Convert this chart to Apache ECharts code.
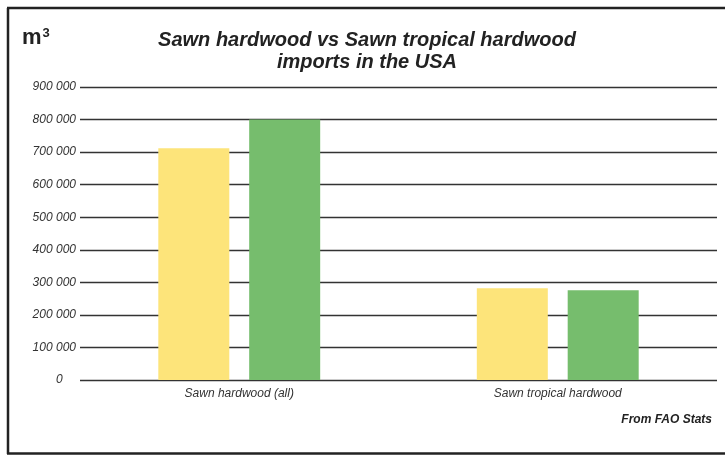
<!DOCTYPE html>
<html>
<head>
<meta charset="utf-8">
<script src="https://cdn.jsdelivr.net/npm/echarts@6/dist/echarts.min.js"></script>
<style>
  html, body { margin: 0; padding: 0; background: #fff; }
  #chart { width: 725px; height: 455px; }
</style>
</head>
<body>
<div id="chart"></div>
<script>
// Import volumes in cubic metres
const categories = ['Sawn hardwood (all)', 'Sawn tropical hardwood'];
const seriesNames = ['Period 1', 'Period 2'];
const period1 = [712000, 282000];
const period2 = [800000, 276000];
const yTicks = { min: 0, max: 900000, interval: 100000 };

const chart = echarts.init(document.getElementById('chart'), null, { renderer: 'canvas' });

const fontFamily = '"Liberation Sans", Arial, Helvetica, sans-serif';

function fmtThousands(v) {
  if (v === 0) return '0    ';
  return String(v).replace(/\B(?=(\d{3})+(?!\d))/g, ' ');
}

chart.setOption({
  animation: false,
  backgroundColor: '#ffffff',
  title: {
    text: 'Sawn hardwood vs Sawn tropical hardwood\nimports in the USA',
    left: 362,
    top: 24,
    textAlign: 'center',
    textStyle: {
      fontFamily: fontFamily,
      fontSize: 20,
      fontWeight: 'bold',
      fontStyle: 'italic',
      color: '#222',
      lineHeight: 22
    }
  },
  grid: { left: 80, right: 8, top: 87, bottom: 75, containLabel: false },
  xAxis: {
    type: 'category',
    data: categories,
    axisLine: { show: false },
    axisTick: { show: false },
    axisLabel: {
      margin: 8,
      fontFamily: fontFamily,
      fontSize: 12,
      fontStyle: 'italic',
      color: '#333'
    }
  },
  yAxis: {
    type: 'value',
    min: yTicks.min,
    max: yTicks.max,
    interval: yTicks.interval,
    axisLine: { show: false },
    axisTick: { show: false },
    axisLabel: {
      margin: 4,
      fontFamily: fontFamily,
      fontSize: 12,
      fontStyle: 'italic',
      color: '#333',
      formatter: fmtThousands
    },
    splitLine: { show: true, lineStyle: { color: '#333', width: 1.3 } }
  },
  series: [
    {
      name: seriesNames[0],
      type: 'bar',
      data: period1,
      barWidth: 71,
      barGap: '28%',
      itemStyle: { color: '#FDE47A' }
    },
    {
      name: seriesNames[1],
      type: 'bar',
      data: period2,
      barWidth: 71,
      barGap: '28%',
      itemStyle: { color: '#76BD6D' }
    }
  ],
  graphic: [
    // frame: left, top and bottom edges
    { type: 'line', shape: { x1: 8, y1: 8, x2: 8, y2: 454 }, style: { stroke: '#222', lineWidth: 2.5 } },
    { type: 'line', shape: { x1: 7, y1: 8, x2: 725, y2: 8 }, style: { stroke: '#222', lineWidth: 2.5 } },
    { type: 'line', shape: { x1: 7, y1: 453.5, x2: 725, y2: 453.5 }, style: { stroke: '#222', lineWidth: 2.5 } },
    // unit label: m with superscript 3
    {
      type: 'text', left: 22, top: 27,
      style: {
        text: '{m|m}{s|3}',
        rich: {
          m: { fontFamily: fontFamily, fontSize: 22, fontWeight: 'bold', fill: '#222', verticalAlign: 'bottom' },
          s: { fontFamily: fontFamily, fontSize: 13, fontWeight: 'bold', fill: '#222', verticalAlign: 'top', padding: [0, 0, 8, 1] }
        }
      }
    },
    {
      type: 'text', right: 13, top: 414,
      style: {
        text: 'From FAO Stats', fontFamily: fontFamily, fontSize: 12,
        fontWeight: 'bold', fontStyle: 'italic', fill: '#222'
      }
    }
  ]
});
</script>
</body>
</html>
